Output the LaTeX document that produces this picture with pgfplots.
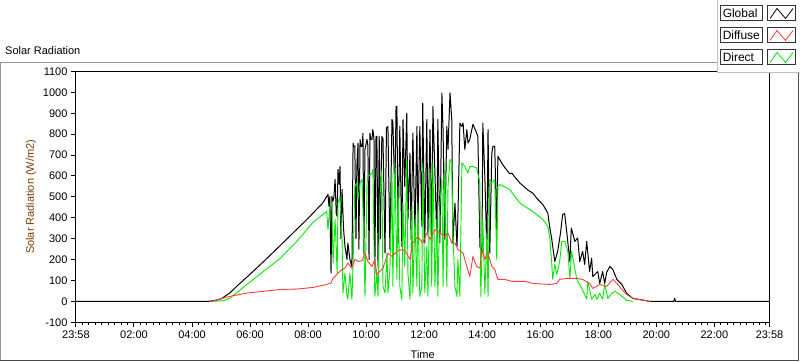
\documentclass[border=0pt]{standalone}
\usepackage{pgfplots}
\pgfplotsset{compat=1.18}
\usepackage{fontspec}
\setmainfont{Liberation Sans}
\definecolor{diff}{RGB}{255,60,60}
\definecolor{dir}{RGB}{0,235,0}
\definecolor{ylab}{RGB}{125,60,0}
\definecolor{frameg}{RGB}{150,150,150}

\pgfplotstableread{
h v
0 0
4.55 0
4.8 5
5.0 12
5.3 40
5.6 80
6.0 130
6.5 195
7.0 262
7.5 330
8.0 398
8.5 470
8.685 512
8.72 455
8.75 502
8.79 135
8.82 502
8.86 480
8.89 502
8.93 584
8.97 420
9.00 407
9.03 631
9.07 560
9.10 646
9.13 300
9.17 536
9.22 350
9.27 263
9.34 201
9.37 279
9.44 201
9.51 167
9.55 757
9.58 742
9.61 742
9.65 300
9.68 646
9.72 757
9.75 250
9.79 775
9.82 742
9.86 742
9.89 805
9.92 230
9.96 727
10.03 775
10.06 745
10.10 200
10.13 805
10.16 775
10.20 775
10.23 822
10.27 780
10.30 135
10.34 789
10.37 789
10.41 167
10.45 790
10.49 300
10.54 789
10.58 780
10.65 231
10.70 830
10.75 837
10.82 249
10.89 870
10.92 860
10.99 502
11.03 933
11.06 933
11.10 279
11.16 837
11.23 263
11.27 870
11.33 550
11.40 901
11.44 392
11.51 709
11.55 297
11.61 805
11.68 327
11.75 837
11.78 327
11.85 837
11.92 359
11.95 949
12.02 279
12.09 870
12.13 327
12.20 822
12.26 279
12.30 933
12.37 614
12.44 279
12.47 870
12.54 279
12.61 997
12.65 822
12.71 297
12.78 837
12.82 727
12.89 997
12.95 870
12.99 279
13.06 470
13.13 263
13.16 392
13.23 853
13.30 837
13.34 853
13.40 727
13.47 822
13.51 757
13.57 775
13.68 847
13.81 805
13.85 789
13.92 263
13.99 231
14.02 853
14.09 598
14.16 231
14.20 822
14.26 231
14.33 709
14.37 742
14.43 742
14.50 344
14.54 694
14.67 662
14.78 640
14.95 610
15.02 614
15.15 590
15.30 566
15.47 545
15.6 530
15.74 518
15.9 490
16.09 463
16.26 423
16.33 350
16.39 303
16.50 191
16.60 239
16.70 330
16.77 415
16.84 420
16.91 335
17.02 191
17.07 351
17.19 287
17.29 303
17.36 191
17.46 239
17.53 177
17.60 287
17.70 143
17.77 207
17.81 119
17.98 143
18.05 86
18.15 143
18.22 86
18.29 140
18.40 167
18.50 153
18.64 105
18.81 81
18.98 38
19.19 14
19.67 3
19.75 0
20.6 0
20.63 15
20.66 0
23.9 0
}\globaltab

\pgfplotstableread{
h v
4.6 0
4.85 5
5.07 16
5.31 24
5.89 40
6.46 48
7.03 57
7.61 59
8.18 67
8.64 81
8.79 88
8.86 112
8.93 119
9.03 135
9.17 153
9.27 159
9.37 183
9.51 159
9.61 201
9.72 191
9.86 195
9.96 231
10.06 191
10.20 167
10.30 201
10.37 129
10.45 140
10.58 159
10.75 231
10.89 215
11.06 239
11.23 249
11.35 240
11.51 201
11.61 279
11.78 311
11.95 279
12.09 327
12.20 297
12.37 344
12.54 327
12.71 311
12.82 327
12.95 279
13.06 279
13.16 249
13.34 231
13.47 167
13.57 119
13.68 215
13.81 167
13.92 159
13.99 249
14.09 201
14.20 231
14.33 167
14.43 153
14.54 105
14.78 105
15.02 96
15.47 96
15.74 86
16.33 81
16.57 86
16.67 105
16.91 110
17.26 110
17.46 105
17.70 86
17.81 62
18.05 81
18.29 72
18.50 105
18.64 86
18.81 57
18.98 33
19.19 14
19.67 3
19.8 0
}\difftab

\pgfplotstableread{
h v
4.66 0
5.07 3
5.31 16
5.89 81
6.46 143
7.03 205
7.61 287
8.18 380
8.64 430
8.685 344
8.75 455
8.82 470
8.86 183
8.93 392
9.00 135
9.03 470
9.10 502
9.17 297
9.20 40
9.27 135
9.34 24
9.37 10
9.44 135
9.51 10
9.55 183
9.61 550
9.68 566
9.72 488
9.79 566
9.86 584
9.89 455
9.96 24
10.03 566
10.06 598
10.20 614
10.23 631
10.30 24
10.37 135
10.41 24
10.47 488
10.54 631
10.58 72
10.65 40
10.72 231
10.75 40
10.82 153
10.89 614
10.92 72
10.99 662
11.06 105
11.10 550
11.16 72
11.23 10
11.27 470
11.33 167
11.40 680
11.44 135
11.51 10
11.58 455
11.61 40
11.68 392
11.75 72
11.78 470
11.85 24
11.92 72
11.95 662
12.02 40
12.09 263
12.13 24
12.20 631
12.26 72
12.30 662
12.37 72
12.44 392
12.47 24
12.54 470
12.61 584
12.65 72
12.71 662
12.78 72
12.82 550
12.89 680
12.95 662
12.99 327
13.06 72
13.13 24
13.16 201
13.23 24
13.30 662
13.40 646
13.51 614
13.57 646
13.68 646
13.81 638
13.92 566
13.95 24
14.02 392
14.09 38
14.16 327
14.20 24
14.26 584
14.33 566
14.43 584
14.50 201
14.54 550
14.61 559
14.95 535
15.30 470
15.74 430
16.09 392
16.26 359
16.33 303
16.39 191
16.43 105
16.50 177
16.57 129
16.67 191
16.74 287
16.84 287
16.95 239
17.02 110
17.08 239
17.26 105
17.43 62
17.53 33
17.60 10
17.64 96
17.77 10
17.88 33
17.95 10
18.05 38
18.15 10
18.22 81
18.33 14
18.46 38
18.57 48
18.74 33
18.98 5
19.2 0
}\dirtab

\begin{document}
\begin{tikzpicture}
\begin{scope}[x=1pt,y=1pt]
\useasboundingbox (0,0) rectangle (800,361);
\fill[white] (0,0) rectangle (800,361);
\draw[frameg, line width=1pt] (0.5,1) -- (0.5,299) -- (718,299);
\draw[black!70, line width=1pt] (0.5,0.8) -- (798.5,0.8) -- (798.5,290);
\node[anchor=west, font=\fontsize{11}{13}\selectfont, inner sep=0pt] at (5,311) {Solar Radiation};
\end{scope}

\begin{axis}[
  at={(76pt,39pt)}, anchor=south west,
  scale only axis, width=694pt, height=251pt,
  xmin=0, xmax=23.9, ymin=-100, ymax=1100,
  axis line style={line width=1pt},
  tick align=outside, tick pos=left,
  major tick length=5pt, minor tick length=3pt,
  every tick/.style={black, line width=1pt},
  xtick={0,2,4,6,8,10,12,14,16,18,20,22,23.9},
  xticklabels={23:58,02:00,04:00,06:00,08:00,10:00,12:00,14:00,16:00,18:00,20:00,22:00,23:58},
  minor xtick={0,0.22222,...,23.9},
  ytick={-100,0,100,200,300,400,500,600,700,800,900,1000,1100},
  scaled y ticks=false,
  /pgf/number format/assume math mode=true,
  /pgf/number format/1000 sep={},
  tick label style={font=\fontsize{11}{13}\selectfont},
  label style={font=\fontsize{11}{13}\selectfont},
  xlabel={Time}, ylabel={Solar Radiation (W/m2)},
  xlabel style={at={(axis description cs:0.5,-0.1275)}, anchor=center},
  ylabel style={at={(axis description cs:-0.0648,0.5)}, anchor=center, color=ylab},
]
\addplot[black, line width=1pt, line join=round] table[x=h, y=v] {\globaltab};
\addplot[dir, line width=0.9pt, line join=round] table[x=h, y=v] {\dirtab};
\addplot[diff, line width=0.9pt, line join=round] table[x=h, y=v] {\difftab};
\end{axis}

\begin{scope}[x=1pt,y=1pt]
\fill[white] (717.7,289.3) rectangle (800,361);
\draw[black!25, line width=1pt] (717.7,361) -- (717.7,289.3) -- (800,289.3);
\foreach \yc/\lab/\col in {348/Global/black, 326/Diffuse/diff, 304/Direct/dir}{
  \draw[black!80, line width=1pt, fill=white] (721,\yc-7.5) rectangle (763,\yc+7.5);
  \node[anchor=west, inner sep=0pt, font=\fontsize{12}{14}\selectfont] at (723,\yc) {\lab};
  \draw[black!80, line width=1pt, fill=white] (768,\yc-7.5) rectangle (796,\yc+7.5);
  \draw[\col, line width=0.8pt] (770.5,\yc-5) -- (777.5,\yc+5) -- (786,\yc-5) -- (793.5,\yc+5);
}
\end{scope}
\end{tikzpicture}
\end{document}
